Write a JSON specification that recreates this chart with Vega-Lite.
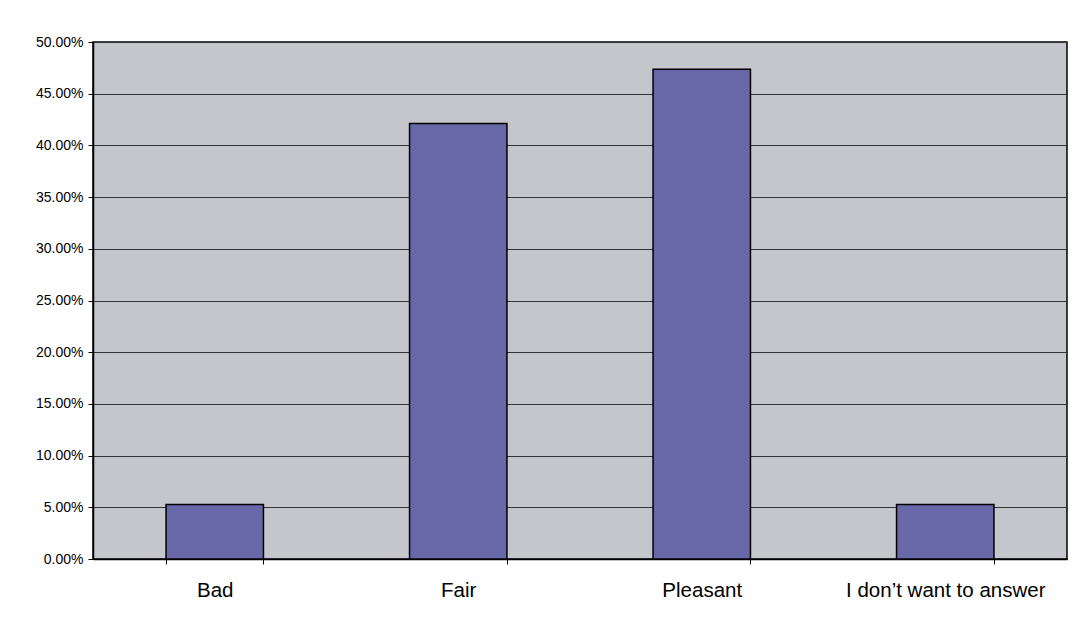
{
  "$schema": "https://vega.github.io/schema/vega-lite/v6.json",
  "width": 974,
  "height": 517,
  "autosize": {"type": "none"},
  "padding": {"left": 93, "top": 42, "right": 19, "bottom": 67},
  "background": "#ffffff",
  "config": {
    "view": {"fill": "#c4c6cc", "stroke": "#000000", "strokeWidth": 1.5},
    "font": "Liberation Sans"
  },
  "data": {
    "values": [
      {"answer": "Bad", "share": 0.0526},
      {"answer": "Fair", "share": 0.4211},
      {"answer": "Pleasant", "share": 0.4737},
      {"answer": "I don’t want to answer", "share": 0.0526}
    ]
  },
  "mark": {"type": "bar", "fill": "#6868a8", "stroke": "#000000", "strokeWidth": 1.5},
  "encoding": {
    "x": {
      "field": "answer",
      "type": "nominal",
      "sort": null,
      "scale": {"paddingInner": 0.6, "paddingOuter": 0.3},
      "axis": {
        "title": null,
        "labelAngle": 0,
        "labelFontSize": 20.5,
        "labelLimit": 0,
        "labelColor": "#000000",
        "labelPadding": 16,
        "tickBand": "extent",
        "tickColor": "#000000",
        "tickSize": 5,
        "domainColor": "#000000",
        "domainWidth": 1.5
      }
    },
    "y": {
      "field": "share",
      "type": "quantitative",
      "scale": {"domain": [0, 0.5], "nice": false},
      "axis": {
        "title": null,
        "format": ".2%",
        "values": [0, 0.05, 0.1, 0.15, 0.2, 0.25, 0.3, 0.35, 0.4, 0.45, 0.5],
        "labelFontSize": 14,
        "labelColor": "#000000",
        "labelPadding": 5,
        "tickColor": "#000000",
        "tickSize": 5,
        "domainColor": "#000000",
        "domainWidth": 1.5,
        "grid": true,
        "gridColor": "#333333",
        "gridWidth": 1
      }
    }
  }
}
